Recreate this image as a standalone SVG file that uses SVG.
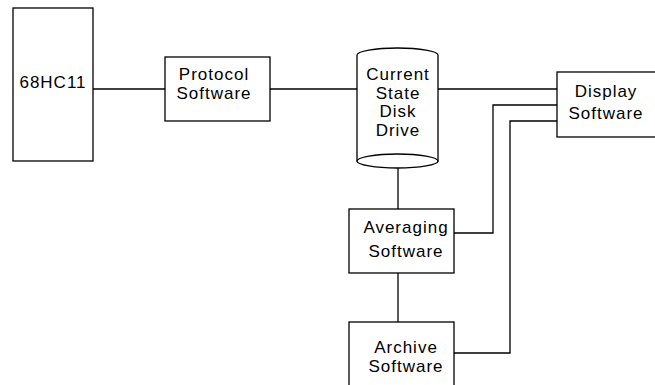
<svg xmlns="http://www.w3.org/2000/svg" width="655" height="385" viewBox="0 0 655 385">
  <style>
    .box { fill: #fff; stroke: #000; stroke-width: 1.3; }
    .wire { fill: none; stroke: #000; stroke-width: 1.3; }
    text { font-family: "Liberation Sans", Arial, sans-serif; font-size: 17px; letter-spacing: 1px; fill: #000; text-anchor: middle; }
  </style>
  <rect width="655" height="385" fill="#fff"/>

  <!-- connectors -->
  <g id="connectors">
    <line class="wire" x1="93" y1="89" x2="165" y2="89"/>
    <line class="wire" x1="270" y1="89" x2="357" y2="89"/>
    <line class="wire" x1="438" y1="89" x2="557" y2="89"/>
    <line class="wire" x1="398" y1="168" x2="398" y2="209"/>
    <line class="wire" x1="398" y1="273" x2="398" y2="322"/>
    <polyline class="wire" points="557,105 493,105 493,233 454,233"/>
    <polyline class="wire" points="557,121 510,121 510,353 454,353"/>
  </g>

  <g id="mcu">
    <rect class="box" x="13" y="8" width="80" height="153"/>
    <text x="53" y="88">68HC11</text>
  </g>

  <g id="protocol">
    <rect class="box" x="165" y="57" width="105" height="64"/>
    <text x="214" y="80">Protocol</text>
    <text x="214" y="99">Software</text>
  </g>

  <g id="disk">
    <path class="box" d="M357,55 A40.5,7 0 0 1 438,55 L438,161 L357,161 Z"/>
    <ellipse class="box" cx="397.5" cy="161" rx="40.5" ry="7"/>
    <text x="398" y="80">Current</text>
    <text x="398" y="98.5">State</text>
    <text x="398" y="117">Disk</text>
    <text x="398" y="135.5">Drive</text>
  </g>

  <g id="display">
    <rect class="box" x="557" y="72" width="120" height="65"/>
    <text x="606" y="97">Display</text>
    <text x="606" y="119">Software</text>
  </g>

  <g id="averaging">
    <rect class="box" x="349" y="209" width="105" height="64"/>
    <text x="406" y="233">Averaging</text>
    <text x="406" y="257">Software</text>
  </g>

  <g id="archive">
    <rect class="box" x="349" y="322" width="105" height="80"/>
    <text x="406" y="353">Archive</text>
    <text x="406" y="372">Software</text>
  </g>
</svg>
